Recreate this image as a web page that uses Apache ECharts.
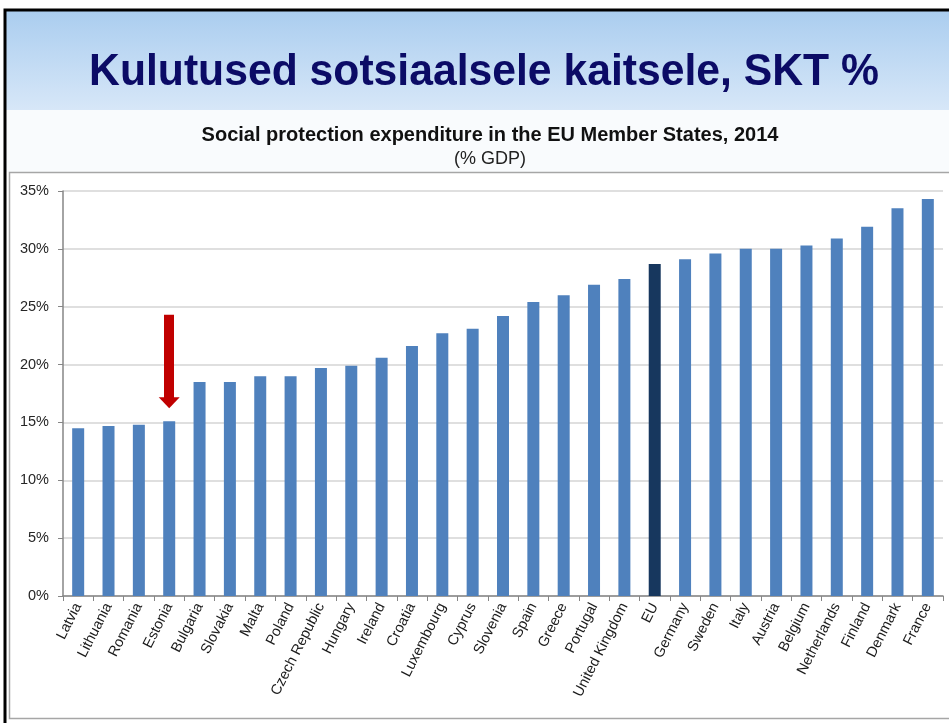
<!DOCTYPE html>
<html>
<head>
<meta charset="utf-8">
<script src="https://cdn.jsdelivr.net/npm/echarts@6/dist/echarts.min.js"></script>
<style>
  html, body { margin: 0; padding: 0; background: #fff; }
  #main { width: 949px; height: 723px; }
</style>
</head>
<body>
<div id="main"></div>
<script>
// andmed
var countries = ['Latvia', 'Lithuania', 'Romania', 'Estonia', 'Bulgaria', 'Slovakia', 'Malta', 'Poland',
    'Czech Republic', 'Hungary', 'Ireland', 'Croatia', 'Luxembourg', 'Cyprus', 'Slovenia', 'Spain',
    'Greece', 'Portugal', 'United Kingdom', 'EU', 'Germany', 'Sweden', 'Italy', 'Austria', 'Belgium',
    'Netherlands', 'Finland', 'Denmark', 'France'];
var values = [14.5, 14.7, 14.8, 15.1, 18.5, 18.5, 19.0, 19.0, 19.7, 19.9, 20.6, 21.6, 22.7, 23.1, 24.2,
    25.4, 26.0, 26.9, 27.4, 28.7, 29.1, 29.6, 30.0, 30.0, 30.3, 30.9, 31.9, 33.5, 34.3];
var yTicks = [0, 5, 10, 15, 20, 25, 30, 35];
var highlight = 'EU';
var arrowAt = 'Estonia';
var arrowFrom = 24.3;
var arrowTo = 16.7;

var chart = echarts.init(document.getElementById('main'));

var barData = countries.map(function (c, i) {
    if (c === highlight) {
        return { value: values[i], itemStyle: { color: '#17375E' } };
    }
    return values[i];
});

var option = {
    backgroundColor: '#ffffff',
    animation: false,
    graphic: [
        // slaidi päis
        {
            type: 'rect', z: -10, silent: true,
            shape: { x: 5, y: 10, width: 950, height: 100 },
            style: {
                fill: new echarts.graphic.LinearGradient(0, 0, 0, 1, [
                    { offset: 0, color: '#AACDEF' },
                    { offset: 1, color: '#D7E7F8' }
                ])
            }
        },
        {
            type: 'rect', z: -9, silent: true,
            shape: { x: 5, y: 110, width: 950, height: 62 },
            style: { fill: '#F9FBFD' }
        },
        // must raam
        {
            type: 'rect', z: 100, silent: true,
            shape: { x: 5, y: 10, width: 960, height: 730 },
            style: { fill: 'none', stroke: '#000', lineWidth: 3 }
        },
        // diagrammi raam
        {
            type: 'rect', z: -5, silent: true,
            shape: { x: 9.5, y: 172.5, width: 960, height: 546 },
            style: { fill: '#fff', stroke: '#A6A6A6', lineWidth: 1.5 }
        },
        {
            type: 'text', z: 10, silent: true,
            x: 484, y: 73,
            style: {
                text: 'Kulutused sotsiaalsele kaitsele, SKT %',
                fontFamily: 'Liberation Sans, Arial, sans-serif',
                fontWeight: 'bold',
                fontSize: 44,
                fill: '#0B0B66',
                align: 'center',
                verticalAlign: 'middle'
            },
            scaleX: 0.97
        }
    ],
    title: {
        text: 'Social protection expenditure in the EU Member States, 2014',
        subtext: '(% GDP)',
        left: 485,
        top: 120,
        textAlign: 'center',
        itemGap: 5,
        textStyle: {
            fontFamily: 'Liberation Sans, Arial, sans-serif',
            fontSize: 20,
            fontWeight: 'bold',
            color: '#111'
        },
        subtextStyle: {
            fontFamily: 'Liberation Sans, Arial, sans-serif',
            fontSize: 18,
            color: '#222'
        }
    },
    grid: {
        left: 63,
        right: 6,
        top: 191,
        bottom: 127,
        containLabel: false
    },
    xAxis: {
        type: 'category',
        data: countries,
        axisLine: { lineStyle: { color: '#868686', width: 1.5 } },
        axisTick: { show: true, length: 5, lineStyle: { color: '#868686' } },
        axisLabel: {
            rotate: 63,
            interval: 0,
            margin: 8,
            fontFamily: 'Liberation Sans, Arial, sans-serif',
            fontSize: 14.5,
            color: '#1a1a1a'
        }
    },
    yAxis: {
        type: 'value',
        min: yTicks[0],
        max: yTicks[yTicks.length - 1],
        interval: 5,
        axisLine: { show: true, lineStyle: { color: '#868686', width: 1.5 } },
        axisTick: { show: true, length: 5, lineStyle: { color: '#868686' } },
        splitLine: { lineStyle: { color: '#D4D4D4', width: 1.5 } },
        axisLabel: {
            margin: 14,
            fontFamily: 'Liberation Sans, Arial, sans-serif',
            fontSize: 14.5,
            color: '#262626',
            formatter: '{value}%'
        }
    },
    series: [
        {
            name: 'Social protection expenditure',
            type: 'bar',
            data: barData,
            barWidth: 12,
            itemStyle: { color: '#4F81BD' },
            markLine: {
                silent: true,
                animation: false,
                symbol: ['none', 'triangle'],
                symbolSize: [21, 11],
                label: { show: false },
                lineStyle: { color: '#C00000', width: 10, type: 'solid' },
                emphasis: { disabled: true },
                data: [
                    [
                        { coord: [arrowAt, arrowFrom] },
                        { coord: [arrowAt, arrowTo] }
                    ]
                ]
            }
        }
    ]
};

chart.setOption(option);

window.onresize = function () {
    chart.resize();
};
</script>
</body>
</html>
